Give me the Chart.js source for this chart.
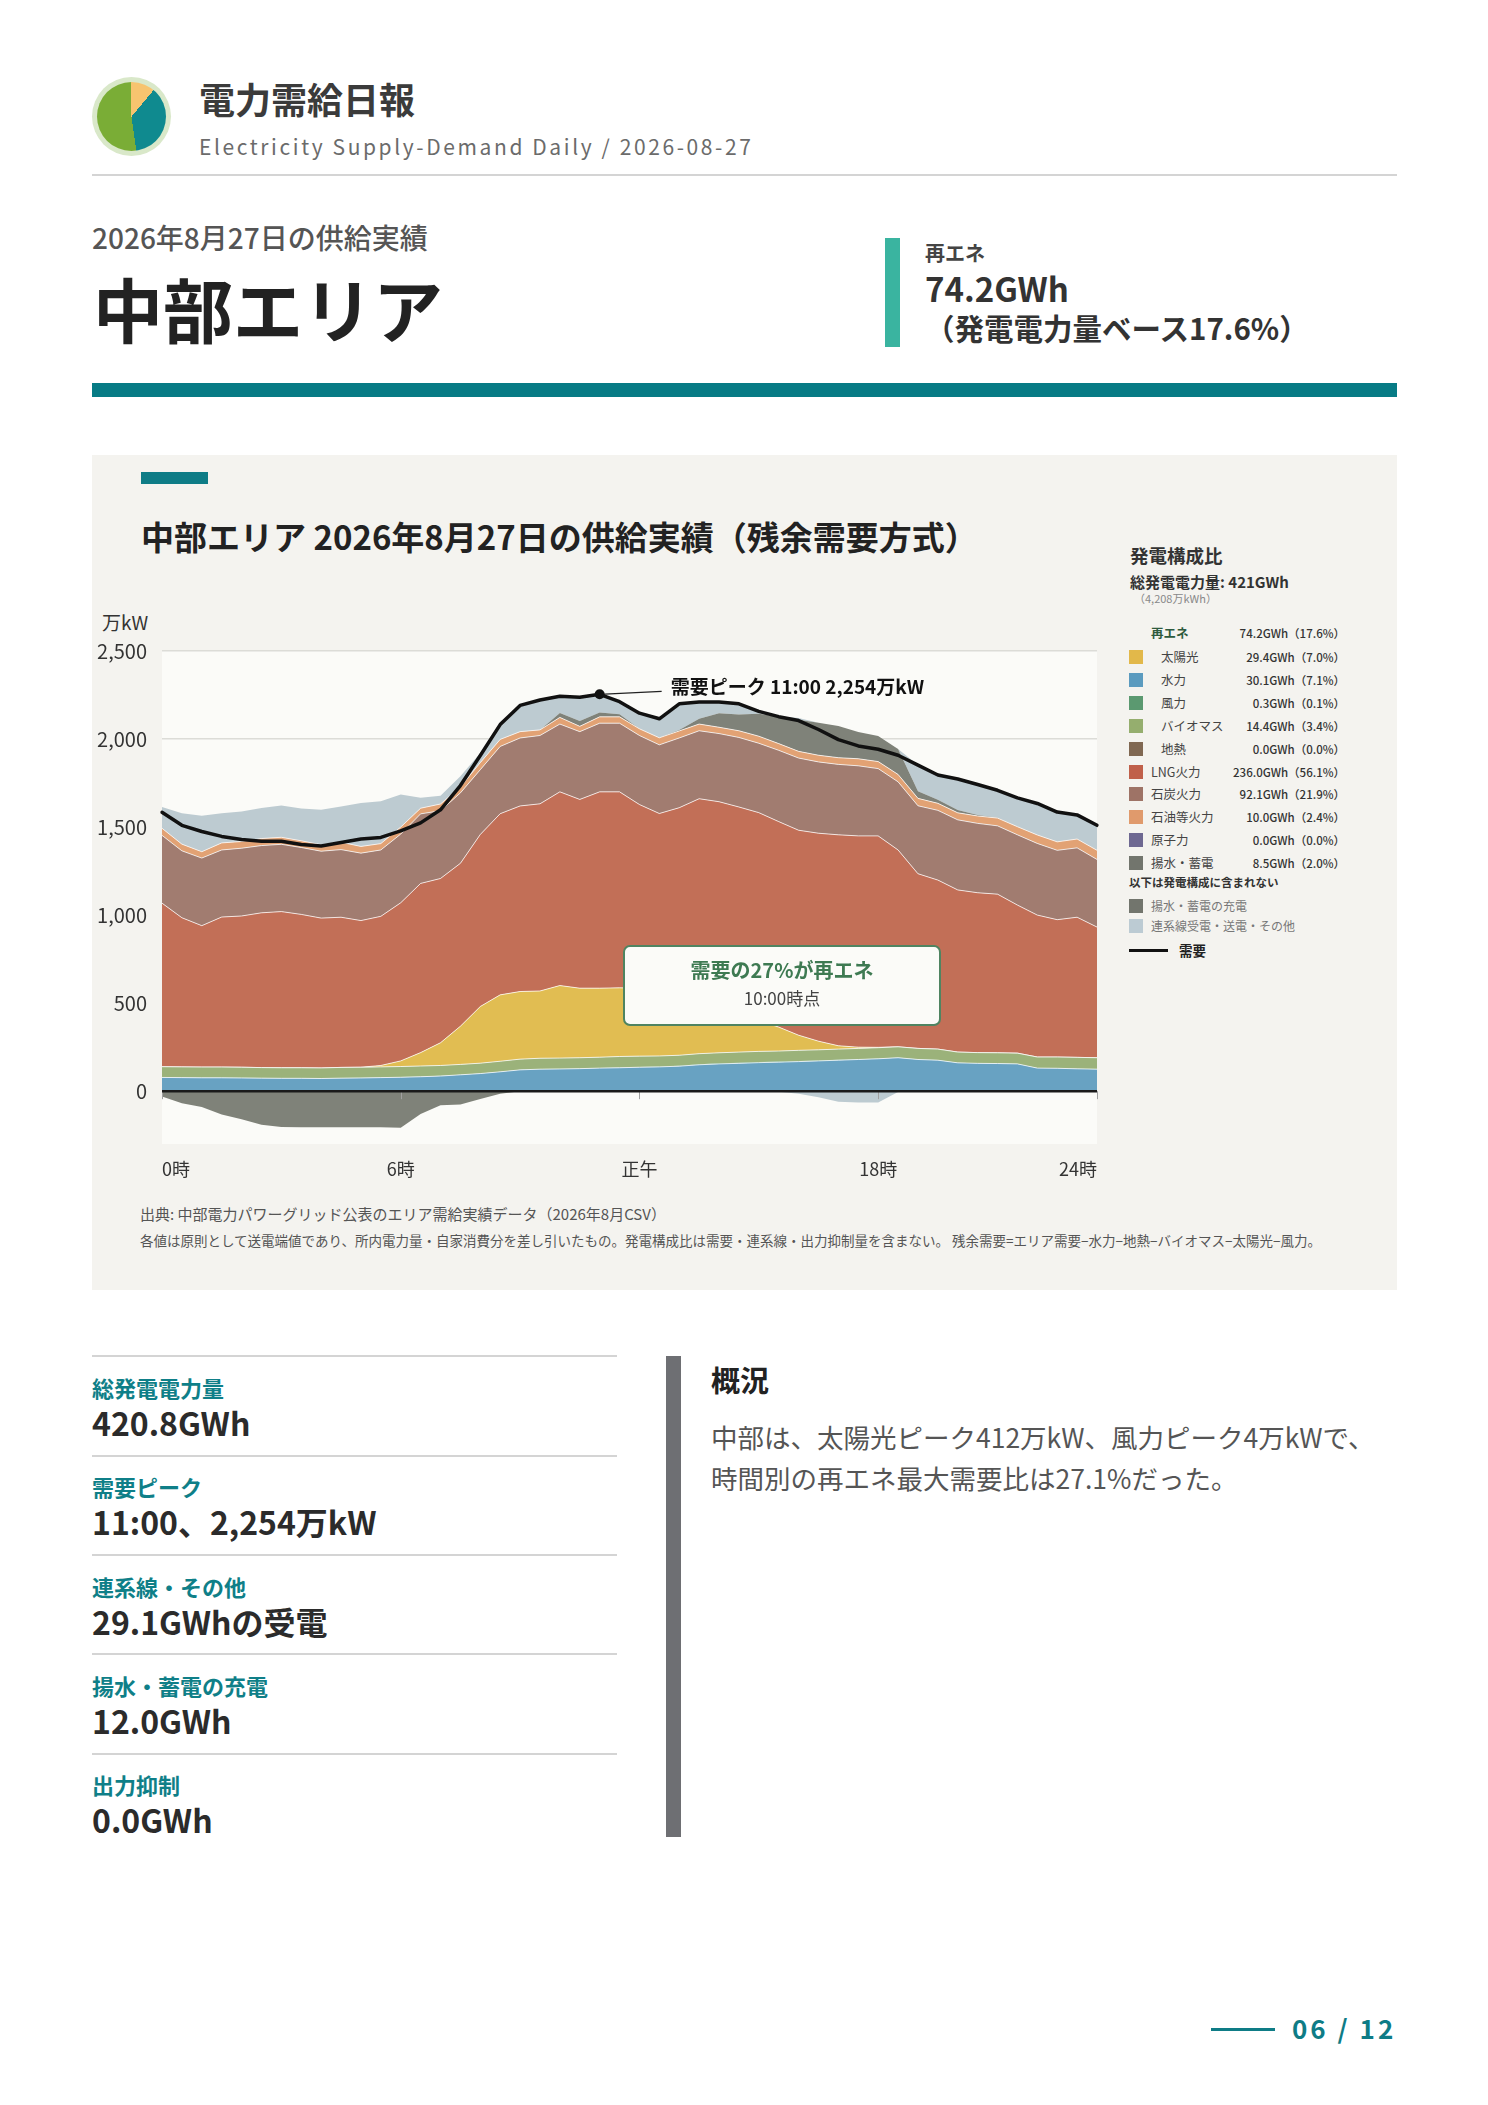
<!DOCTYPE html>
<html lang="ja">
<head>
<meta charset="utf-8">
<title>電力需給日報 中部エリア</title>
<script src="https://cdn.jsdelivr.net/npm/chart.js@4.4.1/dist/chart.umd.min.js"></script>
<style>
html,body{margin:0;padding:0;background:#fff;}
body{width:1488px;height:2105px;position:relative;overflow:hidden;font-family:"Noto Sans CJK JP","Noto Sans",sans-serif;color:#222;}
.a{position:absolute;white-space:nowrap;}
.b{font-weight:700;}
.rule{position:absolute;left:92px;width:525px;height:2px;background:#d4d4d4;}
.slabel{position:absolute;left:92px;font-size:22px;line-height:26px;font-weight:700;color:#0f7f88;white-space:nowrap;}
.sval{position:absolute;left:92px;font-size:32px;line-height:38px;font-weight:700;color:#2b2b2b;white-space:nowrap;}
.lg{position:absolute;font-size:12.5px;line-height:16px;color:#444;white-space:nowrap;}
.lv{position:absolute;left:1205px;width:140px;text-align:right;font-size:11.5px;line-height:16px;color:#333;font-weight:500;white-space:nowrap;}
.sw{position:absolute;left:1129px;width:14px;height:14px;}
</style>
</head>
<body>
<!-- header -->
<div class="a" style="left:92px;top:77px;width:79px;height:79px;border-radius:50%;background:#d9e8c9;"></div>
<div class="a" style="left:97px;top:82px;width:69px;height:69px;border-radius:50%;background:conic-gradient(#f7c46f 0deg 40deg,#0f8a8f 40deg 172deg,#7aad36 172deg 360deg);"></div>
<div class="a b" style="left:199px;top:76px;font-size:36px;line-height:44px;color:#3b3b3b;">電力需給日報</div>
<div class="a" style="left:199px;top:133px;font-size:21px;line-height:26px;color:#6b6b6b;letter-spacing:2.6px;">Electricity Supply-Demand Daily / 2026-08-27</div>
<div class="a" style="left:92px;top:174px;width:1305px;height:2px;background:#d4d4d4;"></div>

<div class="a" style="left:92px;top:221px;font-size:28px;line-height:32px;color:#555;font-weight:500;">2026年8月27日の供給実績</div>
<div class="a b" style="left:93px;top:267px;font-size:70px;line-height:82px;color:#222;">中部エリア</div>
<div class="a" style="left:885px;top:238px;width:15px;height:109px;background:#3ab4a0;"></div>
<div class="a b" style="left:925px;top:241px;font-size:20px;line-height:24px;color:#444;">再エネ</div>
<div class="a b" style="left:925px;top:270px;font-size:33px;line-height:36px;color:#333;">74.2GWh</div>
<div class="a b" style="left:925px;top:310px;font-size:29.5px;line-height:34px;color:#333;">（発電電力量ベース17.6%）</div>
<div class="a" style="left:92px;top:383px;width:1305px;height:14px;background:#077b85;"></div>

<!-- chart panel -->
<div class="a" style="left:92px;top:455px;width:1305px;height:835px;background:#f4f3ef;"></div>
<div class="a" style="left:141px;top:472px;width:67px;height:12px;background:#0e7c86;"></div>
<div class="a b" style="left:141px;top:516px;font-size:33px;line-height:40px;color:#222;">中部エリア 2026年8月27日の供給実績（残余需要方式）</div>
<div class="a" style="left:102px;top:611px;font-size:19px;line-height:22px;color:#333;">万kW</div>

<div id="cbox" class="a" style="left:92px;top:640px;width:1019px;height:554px;"><canvas id="c"></canvas></div>

<div class="a" style="left:623px;top:945px;width:314px;height:77px;border:2px solid #4f8461;border-radius:7px;background:#fbfbf8;"></div>
<div class="a b" style="left:623px;top:957px;width:318px;text-align:center;font-size:20px;line-height:26px;color:#3e7a52;">需要の27%が再エネ</div>
<div class="a" style="left:623px;top:987px;width:318px;text-align:center;font-size:17px;line-height:22px;color:#444;">10:00時点</div>

<div class="a" style="left:140px;top:1204px;font-size:15px;line-height:20px;color:#555;">出典: 中部電力パワーグリッド公表のエリア需給実績データ（2026年8月CSV）</div>
<div class="a" style="left:140px;top:1231px;font-size:13.5px;line-height:18px;color:#555;">各値は原則として送電端値であり、所内電力量・自家消費分を差し引いたもの。発電構成比は需要・連系線・出力抑制量を含まない。 残余需要=エリア需要−水力−地熱−バイオマス−太陽光−風力。</div>

<!-- legend -->
<div class="a b" style="left:1130px;top:543px;font-size:18.5px;line-height:24px;color:#333;">発電構成比</div>
<div class="a b" style="left:1130px;top:572px;font-size:15px;line-height:19px;color:#333;">総発電電力量: 421GWh</div>
<div class="a" style="left:1134px;top:591px;font-size:11px;line-height:14px;color:#888;">（4,208万kWh）</div>
<div id="legend"></div>

<!-- stats -->
<div class="rule" style="top:1355px;"></div>
<div class="slabel" style="top:1374px;">総発電電力量</div>
<div class="sval" style="top:1403px;">420.8GWh</div>
<div class="rule" style="top:1455px;"></div>
<div class="slabel" style="top:1473px;">需要ピーク</div>
<div class="sval" style="top:1502px;">11:00、2,254万kW</div>
<div class="rule" style="top:1554px;"></div>
<div class="slabel" style="top:1573px;">連系線・その他</div>
<div class="sval" style="top:1602px;">29.1GWhの受電</div>
<div class="rule" style="top:1653px;"></div>
<div class="slabel" style="top:1672px;">揚水・蓄電の充電</div>
<div class="sval" style="top:1701px;">12.0GWh</div>
<div class="rule" style="top:1753px;"></div>
<div class="slabel" style="top:1771px;">出力抑制</div>
<div class="sval" style="top:1800px;">0.0GWh</div>

<div class="a" style="left:666px;top:1356px;width:15px;height:481px;background:#6e6f73;"></div>
<div class="a b" style="left:711px;top:1362px;font-size:29px;line-height:34px;color:#222;">概況</div>
<div class="a" style="left:711px;top:1416px;font-size:26.5px;line-height:41px;color:#555;">中部は、太陽光ピーク412万kW、風力ピーク4万kWで、<br>時間別の再エネ最大需要比は27.1%だった。</div>

<!-- page number -->
<div class="a" style="left:1211px;top:2028px;width:64px;height:3px;background:#0e7c86;"></div>
<div class="a b" style="left:1292px;top:2012px;font-size:26px;line-height:32px;color:#0e7c86;letter-spacing:3px;">06 / 12</div>

<script>
// ---- categories (half-hourly) ----
const times = ["0:00","0:30","1:00","1:30","2:00","2:30","3:00","3:30","4:00","4:30","5:00","5:30",
  "6:00","6:30","7:00","7:30","8:00","8:30","9:00","9:30","10:00","10:30","11:00","11:30",
  "12:00","12:30","13:00","13:30","14:00","14:30","15:00","15:30","16:00","16:30","17:00","17:30",
  "18:00","18:30","19:00","19:30","20:00","20:30","21:00","21:30","22:00","22:30","23:00","23:30"];
const xTickIndex = [0, 12, 24, 36, 47];
const xTickText = ["0時", "6時", "正午", "18時", "24時"];
const yTicks = [0, 500, 1000, 1500, 2000, 2500];

// ---- series (万kW) ----
const hydro = [78,77,76,76,75,74,73,73,72,74,75,77,79,82,86,93,100,110,121,125,126,128,131,133,
  136,138,142,150,155,158,162,165,168,172,176,180,184,190,180,176,161,158,157,155,131,130,127,125];
const wind = [1,1,1,1,1,1,1,1,1,1,1,1,1,1,1,1,1,1,1,1,1,1,1,2,
  2,2,2,3,3,4,4,3,3,2,2,2,2,1,1,1,1,1,1,1,1,1,1,1];
const biomass = [60,60,60,60,60,59,59,59,59,60,60,60,60,60,59,58,58,59,60,61,61,61,61,62,
  61,60,60,60,60,60,60,60,61,61,61,61,61,61,62,62,60,60,60,60,62,63,64,64];
const geothermal = [0,0,0,0,0,0,0,0,0,0,0,0,0,0,0,0,0,0,0,0,0,0,0,0,
  0,0,0,0,0,0,0,0,0,0,0,0,0,0,0,0,0,0,0,0,0,0,0,0];
const solar = [0,0,0,0,0,0,0,0,0,0,0,8,32,76,129,217,322,377,384,382,412,395,392,390,
  385,372,352,322,282,225,175,136,86,49,19,7,2,0,0,0,0,0,0,0,0,0,0,0];
const lng = [929,847,803,852,859,879,887,871,851,853,833,847,898,961,933,925,977,1029,1054,1063,1100,1072,1115,1113,
  1044,1005,1054,1126,1144,1167,1181,1167,1164,1181,1198,1200,1201,1118,992,960,921,908,901,841,806,780,796,742];
const coal = [385,380,384,381,385,382,382,380,380,384,383,377,390,395,385,400,368,382,386,388,385,385,390,390,
  392,390,396,386,387,395,394,405,410,405,400,398,382,387,386,396,398,394,388,399,407,394,394,384];
const oil = [40,38,36,40,38,40,40,38,37,42,38,36,40,32,38,34,40,40,36,32,38,30,36,36,
  38,40,40,38,36,38,40,38,38,38,38,40,40,42,42,40,40,42,44,46,48,48,50,52];
const nuclear = [0,0,0,0,0,0,0,0,0,0,0,0,0,0,0,0,0,0,0,0,0,0,0,0,
  0,0,0,0,0,0,0,0,0,0,0,0,0,0,0,0,0,0,0,0,0,0,0,0];
const pumpGen = [0,0,0,0,0,0,0,0,0,0,0,0,0,0,0,0,0,0,0,0,25,30,25,15,
  0,0,5,30,80,92,128,152,180,185,180,152,145,145,40,20,16,6,2,0,0,0,0,0];
const imports = [121,175,205,169,171,174,180,184,198,203,247,240,185,60,47,60,55,99,149,170,95,135,103,71,
  89,108,149,95,63,61,13,4,10,0,0,0,0,0,149,141,176,173,156,164,179,169,137,142];
const pumpCharge = [-30,-68,-90,-132,-160,-190,-203,-205,-205,-205,-205,-205,-207,-130,-80,-75,-45,-15,0,0,0,0,0,0,
  0,0,0,0,0,0,0,0,0,0,0,0,0,0,0,0,0,0,0,0,0,0,0,0];
const exportsOut = [0,0,0,0,0,0,0,0,0,0,0,0,0,0,0,0,0,0,0,0,0,0,0,0,
  0,0,0,0,0,0,0,-3,-15,-35,-60,-65,-64,-5,0,0,0,0,0,0,0,0,0,0];
const demand = [1584,1510,1475,1447,1429,1419,1419,1401,1393,1412,1432,1441,1478,1524,1598,1736,1906,2082,2191,2222,2243,2237,2254,2212,
  2147,2115,2200,2210,2210,2200,2157,2127,2105,2054,1997,1961,1942,1908,1852,1796,1773,1742,1709,1666,1634,1585,1569,1510];

// ---- legend table ----
const legendNames = ["太陽光","水力","風力","バイオマス","地熱","LNG火力","石炭火力","石油等火力","原子力","揚水・蓄電"];
const legendGWh = ["29.4","30.1","0.3","14.4","0.0","236.0","92.1","10.0","0.0","8.5"];
const legendPct = ["7.0","7.1","0.1","3.4","0.0","56.1","21.9","2.4","0.0","2.0"];
const legendColors = ["#e2b84a","#5b9bbf","#5b9970","#95ae6e","#806852","#c0604a","#9e7366","#e09a6c","#6e6891","#72756d"];
const legendIndent = [true,true,true,true,true,false,false,false,false,false];
const renewLabel = "再エネ", renewValue = "74.2GWh（17.6%）";
const extraNames = ["揚水・蓄電の充電","連系線受電・送電・その他"];
const extraColors = ["#72756d","#bccbd3"];

// build legend DOM
(function(){
  const L = document.getElementById('legend');
  let h = '';
  h += `<div class="lg b" style="left:1151px;top:625px;color:#2d5a3d;">${renewLabel}</div>`;
  h += `<div class="lv" style="top:625px;">${renewValue}</div>`;
  const row0 = 657, pitch = 22.9;
  legendNames.forEach((n, i) => {
    const cy = row0 + i * pitch;
    h += `<div class="sw" style="top:${cy-7}px;background:${legendColors[i]};"></div>`;
    h += `<div class="lg" style="left:${legendIndent[i]?1161:1151}px;top:${cy-8}px;">${n}</div>`;
    h += `<div class="lv" style="top:${cy-8}px;">${legendGWh[i]}GWh（${legendPct[i]}%）</div>`;
  });
  h += `<div class="lg b" style="left:1129px;top:874px;font-size:11.5px;color:#333;">以下は発電構成に含まれない</div>`;
  [906, 926].forEach((cy, i) => {
    h += `<div class="sw" style="top:${cy-7}px;background:${extraColors[i]};"></div>`;
    h += `<div class="lg" style="left:1151px;top:${cy-8}px;color:#777;font-size:12px;">${extraNames[i]}</div>`;
  });
  h += `<div class="a" style="left:1129px;top:949px;width:39px;height:3px;background:#111;"></div>`;
  h += `<div class="lg b" style="left:1179px;top:942px;font-size:13.5px;color:#222;">需要</div>`;
  L.innerHTML = h;
})();

Chart.defaults.font.family = '"Noto Sans CJK JP","Noto Sans",sans-serif';

const area = (label, data, color, fill, opts = {}) => Object.assign({
  label, data, backgroundColor: color, borderColor: 'rgba(255,255,255,0.75)', borderWidth: 1,
  fill, pointRadius: 0, pointHoverRadius: 0, tension: 0, stack: 'supply'
}, opts);

const peakIdx = demand.indexOf(Math.max(...demand));

const deco = {
  id: 'deco',
  beforeDraw(chart) {
    const {ctx, chartArea: a} = chart;
    ctx.save();
    ctx.fillStyle = '#fbfbf8';
    ctx.fillRect(a.left, a.top, a.right - a.left, a.bottom - a.top);
    ctx.restore();
  },
  afterDatasetsDraw(chart) {
    const {ctx, chartArea: a, scales: {x, y}} = chart;
    const y0 = y.getPixelForValue(0);
    ctx.save();
    ctx.strokeStyle = '#a0a0a0'; ctx.lineWidth = 1;
    xTickIndex.forEach(i => {
      const px = Math.round(x.getPixelForValue(i)) + 0.5;
      ctx.beginPath(); ctx.moveTo(px, y0); ctx.lineTo(px, y0 + 8); ctx.stroke();
    });
    ctx.strokeStyle = '#1a1a1a'; ctx.lineWidth = 2.5;
    ctx.beginPath(); ctx.moveTo(a.left, y0); ctx.lineTo(a.right, y0); ctx.stroke();
    // peak marker
    const px = x.getPixelForValue(peakIdx), py = y.getPixelForValue(demand[peakIdx]);
    ctx.strokeStyle = '#222'; ctx.lineWidth = 1.2;
    ctx.beginPath(); ctx.moveTo(px, py); ctx.lineTo(px + 62, py - 3); ctx.stroke();
    ctx.fillStyle = '#111';
    ctx.beginPath(); ctx.arc(px, py, 5, 0, Math.PI * 2); ctx.fill();
    ctx.font = '700 19px "Noto Sans CJK JP", sans-serif';
    ctx.textBaseline = 'middle'; ctx.textAlign = 'left';
    ctx.fillText(`需要ピーク ${times[peakIdx]} ${demand[peakIdx].toLocaleString('en-US')}万kW`, px + 71, py - 8);
    ctx.restore();
  }
};

const chart = new Chart(document.getElementById('c'), {
  type: 'line',
  data: {
    labels: times,
    datasets: [
      {label: '需要', data: demand, borderColor: '#111', borderWidth: 3.5, fill: false, pointRadius: 0,
       pointHoverRadius: 0, tension: 0, stack: 'demand', borderJoinStyle: 'round', borderCapStyle: 'round'},
      area('水力', hydro, '#68a2c2', 'origin'),
      area('風力', wind, '#5f9c72', '-1', {borderWidth: 0}),
      area('バイオマス', biomass, '#9bb27a', '-1'),
      area('地熱', geothermal, '#806852', '-1', {borderWidth: 0}),
      area('太陽光', solar, '#e1bd52', '-1'),
      area('LNG火力', lng, '#c26f57', '-1'),
      area('石炭火力', coal, '#a17c70', '-1'),
      area('石油等火力', oil, '#e2a274', '-1'),
      area('原子力', nuclear, '#6e6891', '-1', {borderWidth: 0}),
      area('揚水・蓄電', pumpGen, '#7f8279', '-1', {borderWidth: 0}),
      area('連系線受電・その他', imports, '#bdcbd1', '-1', {borderWidth: 0}),
      area('揚水・蓄電の充電', pumpCharge, '#7f8279', 'origin', {borderWidth: 0, stack: 'neg'}),
      area('連系線送電', exportsOut, '#bdcbd1', '-1', {borderWidth: 0, stack: 'neg'})
    ]
  },
  options: {
    responsive: true,
    maintainAspectRatio: false,
    animation: false,
    layout: {padding: {top: 11, right: 5, left: 0, bottom: 0}},
    plugins: {legend: {display: false}, tooltip: {enabled: false}},
    scales: {
      x: {
        grid: {display: false, drawTicks: false},
        border: {display: false},
        afterFit: s => { s.height = 50; },
        ticks: {
          autoSkip: false, maxRotation: 0, minRotation: 0, align: 'inner', padding: 14,
          color: '#333', font: {size: 18},
          callback: (v) => { const k = xTickIndex.indexOf(v); return k >= 0 ? xTickText[k] : null; }
        }
      },
      y: {
        stacked: true,
        min: -300, max: 2500,
        afterFit: s => { s.width = 70; },
        border: {display: false},
        grid: {drawTicks: false, lineWidth: 1.5,
               color: c => (c.tick && c.tick.value > 0) ? '#dcdcd7' : 'rgba(0,0,0,0)'},
        afterBuildTicks: s => { s.ticks = yTicks.map(v => ({value: v})); },
        ticks: {padding: 15, color: '#333', font: {size: 20},
                callback: v => v.toLocaleString('en-US')}
      }
    }
  },
  plugins: [deco]
});

// fit the plot area to the page frame (top 651px, bottom 1144px)
(function fitArea(){
  const box = document.getElementById('cbox');
  for (let k = 0; k < 3; k++) {
    const ca = chart.chartArea;
    const bottomMargin = chart.height - ca.bottom;
    const newTop = 651 - ca.top;
    const newH = 1144 - newTop + bottomMargin;
    box.style.top = newTop + 'px';
    box.style.height = newH + 'px';
    chart.resize();
  }
})();
</script>
</body>
</html>
